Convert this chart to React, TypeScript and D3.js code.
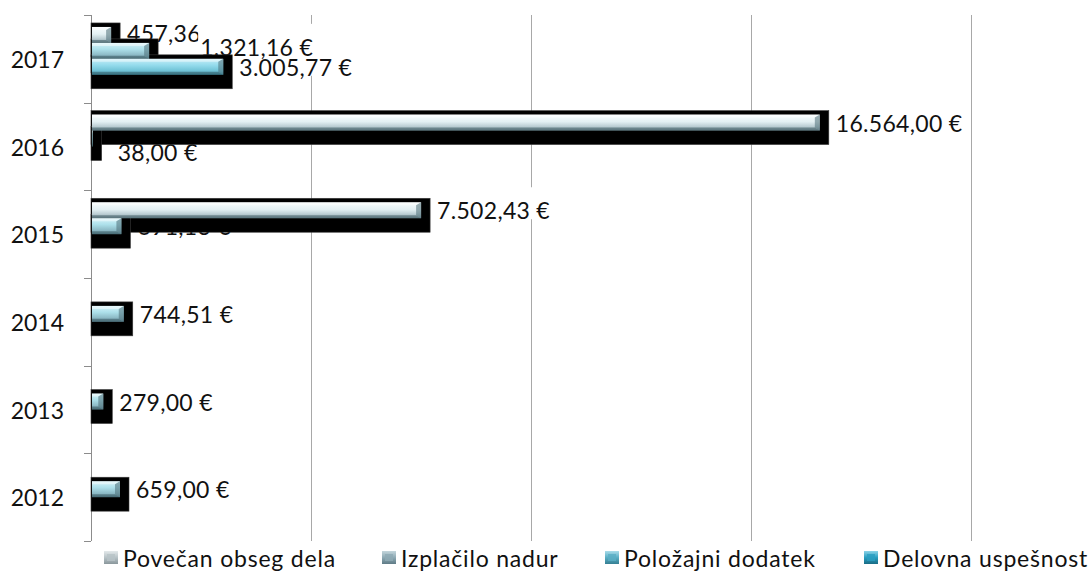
import React, { useEffect, useRef } from "react";
import * as d3 from "d3";

// ---------- DATA ----------
const years = ["2012", "2013", "2014", "2015", "2016", "2017"];
const seriesNames = ["Povečan obseg dela", "Izplačilo nadur", "Položajni dodatek", "Delovna uspešnost"];
const povecanObsegDela: (number | null)[] = [null, null, null, 7502.43, 16564.0, 457.36];
const izplaciloNadur: (number | null)[] = [659.0, 279.0, 744.51, 691.13, 38.0, 1321.16];
const polozajniDodatek: (number | null)[] = [null, null, null, null, null, 3005.77];
const delovnaUspesnost: (number | null)[] = [null, null, null, null, null, null];
const xTicks = [0, 5000, 10000, 15000, 20000];

const seriesValues = [povecanObsegDela, izplaciloNadur, polozajniDodatek, delovnaUspesnost];

// ---------- LAYOUT / STYLE ----------
const W = 1092;
const H = 571;
const M = { left: 91, right: 971, top: 15, bottom: 541 };
const FONT = "Lato, 'Open Sans', sans-serif";
const FS = 23;

// manual label nudges (dx, dy) keyed by series index|year
const LABEL_NUDGE: Record<string, [number, number]> = {
  "0|2017": [0, -2],
  "1|2017": [35, -4],
  "1|2016": [9, 13],
};
// stacking order of the data-label layers (series indices)
const LABEL_LAYER_ORDER = [2, 0, 1, 3];

const barStops = [
  [["0", "#f8fdfe"], ["0.45", "#e3f0f3"], ["0.75", "#b9ccd2"], ["1", "#7d969e"]],
  [["0", "#d6f4fa"], ["0.4", "#ade0ea"], ["0.78", "#8ab7c3"], ["1", "#5f8893"]],
  [["0", "#c6eef8"], ["0.4", "#94dbec"], ["0.78", "#6cc0d4"], ["1", "#3e8fa3"]],
  [["0", "#a6e4f2"], ["0.4", "#45b4d2"], ["0.78", "#2d97b6"], ["1", "#1c6f86"]],
];
const legendStops = [
  [["0", "#e4e9eb"], ["0.5", "#b8c3c7"], ["1", "#8a979c"]],
  [["0", "#c4d6dc"], ["0.5", "#8eaab4"], ["1", "#5f7b86"]],
  [["0", "#a9dcea"], ["0.5", "#5aaec4"], ["1", "#357f93"]],
  [["0", "#8bd3e8"], ["0.5", "#2a9ec0"], ["1", "#1a6c85"]],
];
const legendX = [104, 382, 605, 864];

const locale = d3.formatLocale({ decimal: ",", thousands: ".", grouping: [3], currency: ["", " €"] });
const fmt = locale.format(",.2f");

export default function App() {
  const ref = useRef<SVGSVGElement | null>(null);

  useEffect(() => {
    const svg = d3.select(ref.current);
    svg.selectAll("*").remove();

    const x = d3.scaleLinear().domain([0, 20000]).range([M.left, M.right]);
    const y = d3.scaleBand<string>().domain([...years].reverse()).range([M.top, M.bottom]).padding(0);
    const slot = d3
      .scaleBand<string>()
      .domain(seriesNames)
      .range([0, y.bandwidth()])
      .paddingInner(0)
      .paddingOuter(0.75);
    const h = slot.bandwidth();

    const defs = svg.append("defs");
    barStops.forEach((stops, i) => {
      const g = defs.append("linearGradient").attr("id", `bar${i}`).attr("x1", 0).attr("y1", 0).attr("x2", 0).attr("y2", 1);
      stops.forEach(([o, c]) => g.append("stop").attr("offset", o).attr("stop-color", c));
    });
    legendStops.forEach((stops, i) => {
      const g = defs.append("linearGradient").attr("id", `leg${i}`).attr("x1", 0).attr("y1", 0).attr("x2", 0).attr("y2", 1);
      stops.forEach(([o, c]) => g.append("stop").attr("offset", o).attr("stop-color", c));
    });

    svg.append("rect").attr("width", W).attr("height", H).attr("fill", "#ffffff");

    // gridlines
    svg
      .append("g")
      .selectAll("line")
      .data(xTicks.slice(1))
      .join("line")
      .attr("x1", (d) => x(d) + 0.5)
      .attr("x2", (d) => x(d) + 0.5)
      .attr("y1", M.top)
      .attr("y2", M.bottom)
      .attr("stroke", "#a8a8a8")
      .attr("stroke-width", 1);

    // category axis
    const ax = svg.append("g");
    ax.append("line")
      .attr("x1", M.left + 0.5)
      .attr("x2", M.left + 0.5)
      .attr("y1", M.top)
      .attr("y2", M.bottom)
      .attr("stroke", "#8c8c8c");
    const bounds = [...y.domain().map((d) => y(d) as number), M.bottom];
    ax.selectAll("line.tick")
      .data(bounds)
      .join("line")
      .attr("class", "tick")
      .attr("x1", M.left - 7)
      .attr("x2", M.left)
      .attr("y1", (d) => Math.round(d) + 0.5)
      .attr("y2", (d) => Math.round(d) + 0.5)
      .attr("stroke", "#8c8c8c");
    ax.selectAll("text")
      .data(y.domain())
      .join("text")
      .attr("x", 64)
      .attr("y", (d) => (y(d) as number) + y.bandwidth() / 2)
      .attr("text-anchor", "end")
      .attr("dominant-baseline", "central")
      .attr("font-family", FONT)
      .attr("font-size", FS)
      .attr("fill", "#111111")
      .text((d) => d);

    type Bar = { s: number; year: string; v: number };
    const bars: Bar[] = [];
    seriesValues.forEach((arr, s) =>
      arr.forEach((v, i) => {
        if (v != null) bars.push({ s, year: years[i], v });
      })
    );
    const top = (b: Bar) => (y(b.year) as number) + (slot(seriesNames[b.s]) as number);

    // labels (with white background), drawn beneath bars
    const lg = svg.append("g");
    const labelBars = [...bars].sort((a, b) => LABEL_LAYER_ORDER.indexOf(a.s) - LABEL_LAYER_ORDER.indexOf(b.s));
    labelBars.forEach((b) => {
      const nudge = LABEL_NUDGE[`${b.s}|${b.year}`] || [0, 0];
      const tx = x(b.v) + 16 + nudge[0];
      const ty = top(b) + h / 2 + nudge[1];
      const grp = lg.append("g");
      const bg = grp.append("rect").attr("fill", "#ffffff");
      const t = grp
        .append("text")
        .attr("x", tx)
        .attr("y", ty)
        .attr("dominant-baseline", "central")
        .attr("font-family", FONT)
        .attr("font-size", FS)
        .attr("letter-spacing", 0.3)
        .attr("fill", "#111111")
        .text(`${fmt(b.v)} €`);
      const bb = (t.node() as SVGTextElement).getBBox();
      bg.attr("x", bb.x - 2).attr("y", bb.y - 9).attr("width", bb.width + 4).attr("height", bb.height + 4);
    });

    // black depth / shadow
    svg
      .append("g")
      .selectAll("rect")
      .data(bars)
      .join("rect")
      .attr("x", x(0))
      .attr("y", (b) => top(b) - 4)
      .attr("width", (b) => x(b.v) - x(0) + 9)
      .attr("height", h + 18)
      .attr("fill", "#000000")
      .attr("stroke", "#3a3a3a")
      .attr("stroke-width", 0.6);

    // bevelled bars
    const bg2 = svg.append("g");
    bars.forEach((b) => {
      const x0 = x(0) + 1;
      const x1 = x(b.v);
      const y0 = top(b);
      const w = Math.max(0.5, x1 - x0);
      const e = Math.min(5, w / 2);
      const g = bg2.append("g");
      g.append("rect").attr("x", x0).attr("y", y0).attr("width", w).attr("height", h).attr("fill", `url(#bar${b.s})`);
      g.append("polygon")
        .attr("points", `${x0},${y0} ${x1},${y0} ${x1 - e},${y0 + 3} ${x0},${y0 + 3}`)
        .attr("fill", "#ffffff")
        .attr("opacity", 0.45);
      g.append("polygon")
        .attr("points", `${x0},${y0 + h - 3} ${x1 - e},${y0 + h - 3} ${x1},${y0 + h} ${x0},${y0 + h}`)
        .attr("fill", "#2f4c55")
        .attr("opacity", 0.45);
      g.append("polygon")
        .attr("points", `${x1 - e},${y0 + 3} ${x1},${y0} ${x1},${y0 + h} ${x1 - e},${y0 + h - 3}`)
        .attr("fill", "#4d6d77")
        .attr("opacity", 0.55);
    });

    // legend
    const leg = svg.append("g");
    seriesNames.forEach((name, i) => {
      const lx = legendX[i];
      const ly = 558;
      leg.append("rect").attr("x", lx).attr("y", ly - 7).attr("width", 14).attr("height", 13).attr("fill", `url(#leg${i})`);
      leg.append("rect")
        .attr("x", lx + 3)
        .attr("y", ly - 4)
        .attr("width", 8)
        .attr("height", 7)
        .attr("fill", legendStops[i][1][1])
        .attr("opacity", 0.8);
      leg.append("text")
        .attr("x", lx + 19)
        .attr("y", ly)
        .attr("dominant-baseline", "central")
        .attr("font-family", FONT)
        .attr("font-size", FS)
        .attr("letter-spacing", 0.8)
        .attr("fill", "#111111")
        .text(name);
    });
  }, []);

  return (
    <svg
      ref={ref}
      width={W}
      height={H}
      viewBox={`0 0 ${W} ${H}`}
      style={{ position: "absolute", left: 0, top: 0, display: "block" }}
    />
  );
}
